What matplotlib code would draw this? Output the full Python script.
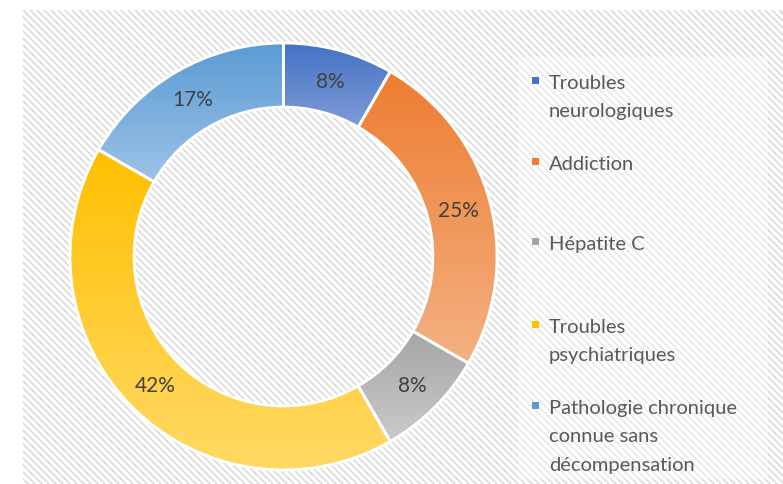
import matplotlib.pyplot as plt
import numpy as np
from matplotlib.colors import to_rgb
from matplotlib.patches import Rectangle

plt.rcParams["font.family"] = ["Lato", "DejaVu Sans"]

# data (patients per category, shown as %)
categories = [
    "Troubles\nneurologiques",
    "Addiction",
    "Hépatite C",
    "Troubles\npsychiatriques",
    "Pathologie chronique\nconnue sans\ndécompensation",
]
counts = [2, 6, 2, 10, 4]
top_colors = ["#4472C4", "#ED7D31", "#A5A5A5", "#FFC000", "#5B9BD5"]
bottom_colors = ["#7F9BD6", "#F4B183", "#CACACA", "#FFD966", "#9DC3E6"]

W, H = 783, 485
fig = plt.figure(figsize=(W / 100, H / 100), dpi=100)

# background: white page + striped chart area (pixel coords)
bg = fig.add_axes([0, 0, 1, 1])
bg.set_xlim(0, W)
bg.set_ylim(H, 0)
bg.axis("off")
area = Rectangle((23, 11), W - 23, H - 11, facecolor="white", edgecolor="none")
bg.add_patch(area)
for c in np.arange(-H, W, 7):
    ln, = bg.plot([c, c + H + 20], [0, H + 20], color="#d9d9d9", lw=1.1,
                  solid_capstyle="butt", zorder=1)
    ln.set_clip_path(area)
# lighter legend box
bg.add_patch(Rectangle((518, 58), 250, 422, facecolor="white", alpha=0.35,
                       edgecolor="none", zorder=2))

# donut
cx, cy, r_px = 283.5, 257.5, 213.5
lim = 1.03
half = r_px * lim
ax = fig.add_axes([(cx - half) / W, (H - cy - half) / H, 2 * half / W, 2 * half / H])
ax.set_facecolor("none")

wedges, texts, autotexts = ax.pie(
    counts, startangle=90, counterclock=False, radius=1,
    autopct="%1.0f%%", pctdistance=0.85,
    wedgeprops=dict(width=0.30, edgecolor="white", linewidth=2),
    textprops=dict(color="#404040", fontsize=15),
)

for w, c_top, c_bot in zip(wedges, top_colors, bottom_colors):
    bb = w.get_path().get_extents()
    t = np.linspace(0, 1, 256)[:, None]
    grad = (1 - t) * np.array(to_rgb(c_bot)) + t * np.array(to_rgb(c_top))
    img = ax.imshow(grad[:, None, :].repeat(2, axis=1), origin="lower",
                    extent=[bb.x0, bb.x1, bb.y0, bb.y1], aspect="auto",
                    interpolation="bilinear", zorder=1)
    img.set_clip_path(w)
    w.set_facecolor("none")
    w.set_zorder(2)
for t in autotexts:
    t.set_zorder(3)

ax.set_xlim(-lim, lim)
ax.set_ylim(-lim, lim)
ax.set_aspect("equal")
ax.axis("off")

# legend, laid out like the original (first-line baselines, px from top)
legend_baselines = [89, 170, 250, 333, 414]
line_step = 28.5
for label, col, yb in zip(categories, top_colors, legend_baselines):
    bg.add_patch(Rectangle((532, yb - 11), 7, 7, facecolor=col,
                           edgecolor="none", zorder=5))
    for i, line in enumerate(label.split("\n")):
        bg.text(549, yb + i * line_step, line, color="#595959", fontsize=14.5,
                va="baseline", ha="left", zorder=5)

fig.savefig("out.png", dpi=100)
